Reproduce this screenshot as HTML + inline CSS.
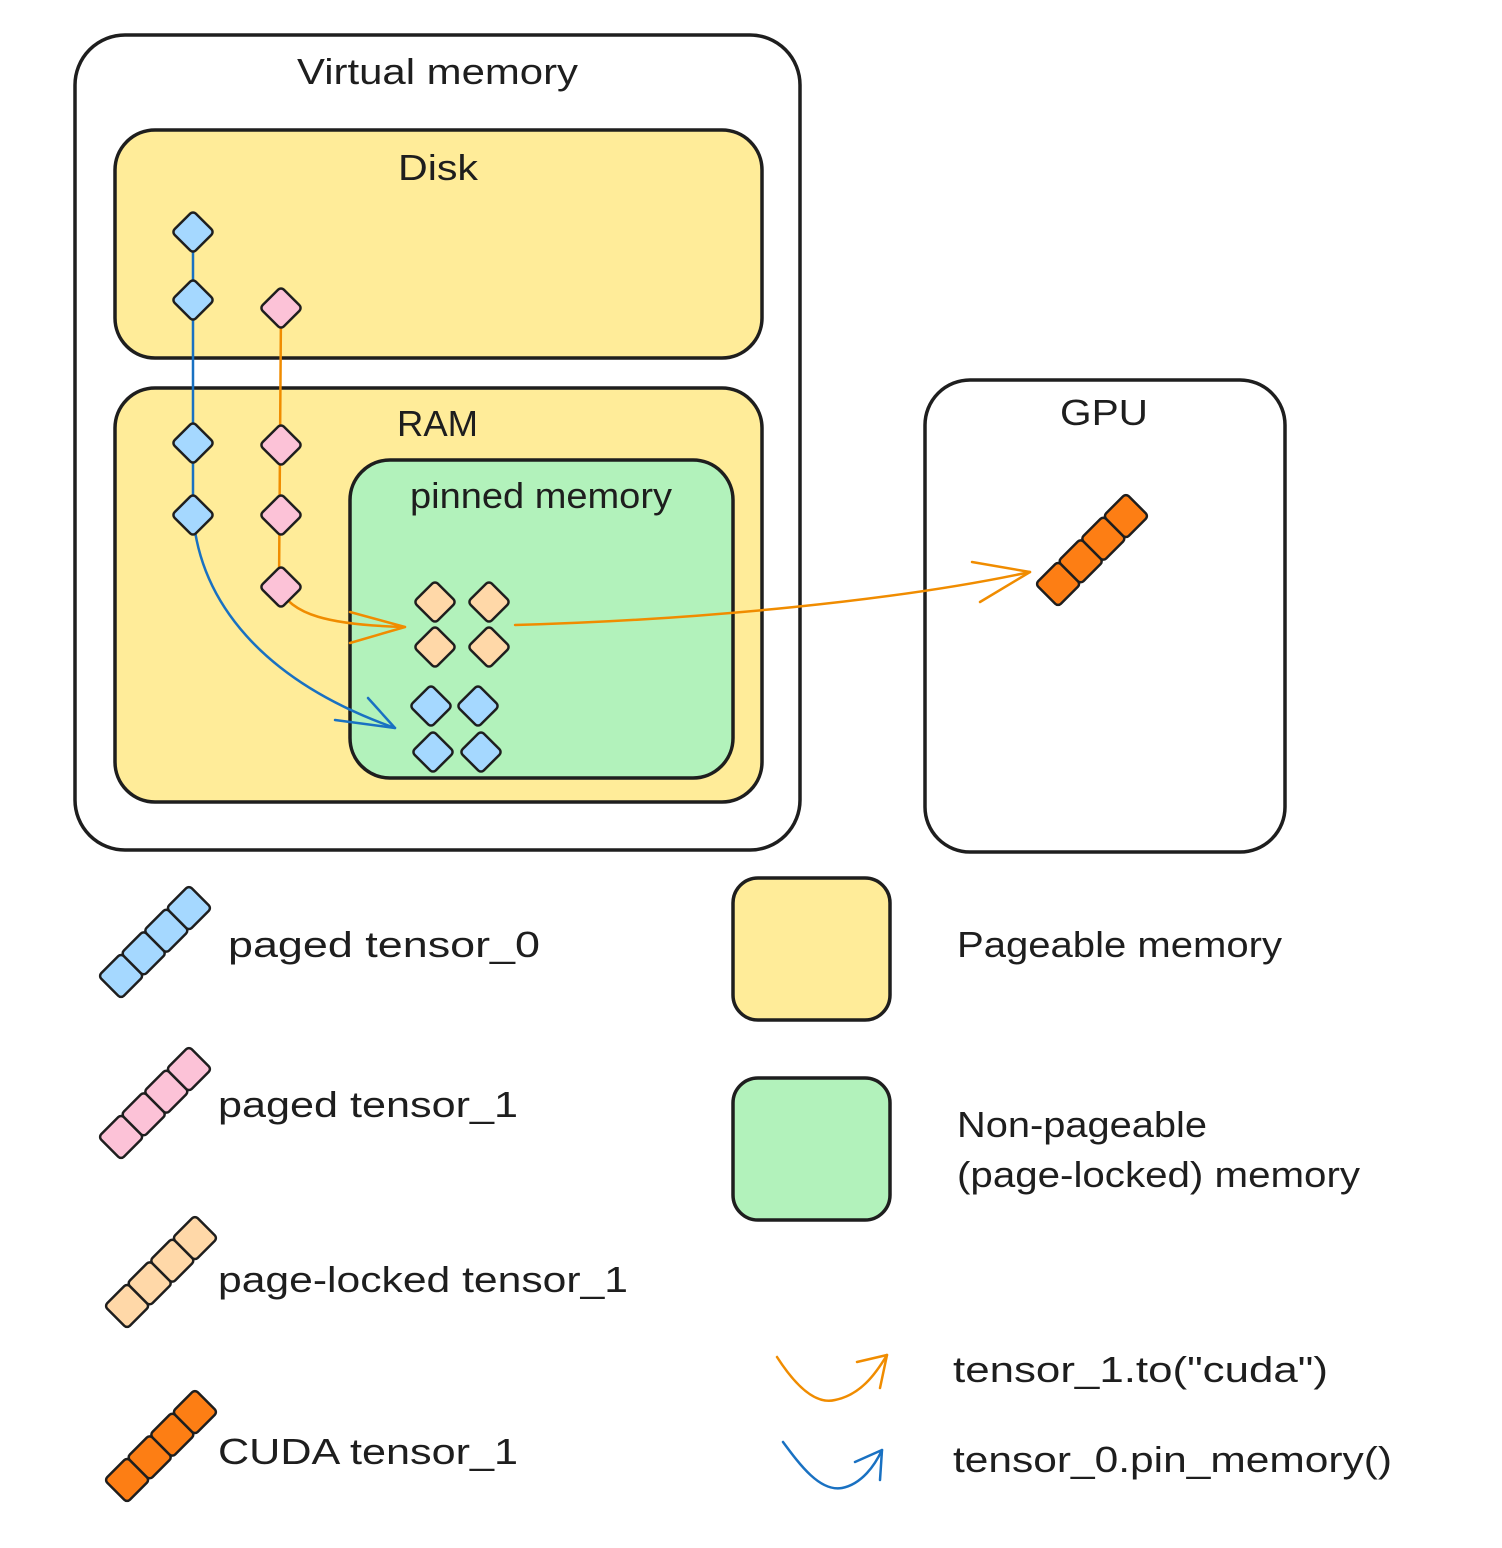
<!DOCTYPE html>
<html><head><meta charset="utf-8"><style>
html,body{margin:0;padding:0;background:#fff}
svg{display:block}
text{font-family:"Liberation Sans","DejaVu Sans",sans-serif;fill:#1e1e1e}
</style></head><body>
<svg width="1502" height="1548" viewBox="0 0 1502 1548" xmlns="http://www.w3.org/2000/svg">
<defs>
<g id="d"><rect x="-15" y="-15" width="30" height="30" rx="4" transform="rotate(45)" stroke="#1e1e1e" stroke-width="2.5"/></g>
<g id="sq"><rect x="-16" y="-16" width="32" height="32" rx="4" stroke="#1e1e1e" stroke-width="2.5"/></g>
</defs>
<g fill="none" stroke="#1e1e1e" stroke-width="3.5">
<rect x="75" y="35" width="725" height="815" rx="50" fill="#fff"/>
<rect x="115" y="130" width="647" height="228" rx="40" fill="#ffec99"/>
<rect x="115" y="388" width="647" height="414" rx="40" fill="#ffec99"/>
<rect x="350" y="460" width="383" height="318" rx="40" fill="#b2f2bb"/>
<rect x="925" y="380" width="360" height="472" rx="45" fill="#fff"/>
<rect x="733" y="878" width="157" height="142" rx="25" fill="#ffec99"/>
<rect x="733" y="1078" width="157" height="142" rx="25" fill="#b2f2bb"/>
</g>
<g font-size="36" lengthAdjust="spacingAndGlyphs">
<text x="297" y="84" textLength="281" lengthAdjust="spacingAndGlyphs">Virtual memory</text>
<text x="398" y="180" textLength="80" lengthAdjust="spacingAndGlyphs">Disk</text>
<text x="397" y="436" textLength="81" lengthAdjust="spacingAndGlyphs">RAM</text>
<text x="410" y="508" textLength="262" lengthAdjust="spacingAndGlyphs">pinned memory</text>
<text x="1060" y="425" textLength="88" lengthAdjust="spacingAndGlyphs">GPU</text>
<text x="228" y="957" textLength="312" lengthAdjust="spacingAndGlyphs">paged tensor_0</text>
<text x="218" y="1117" textLength="300" lengthAdjust="spacingAndGlyphs">paged tensor_1</text>
<text x="218" y="1292" textLength="410" lengthAdjust="spacingAndGlyphs">page-locked tensor_1</text>
<text x="218" y="1464" textLength="300" lengthAdjust="spacingAndGlyphs">CUDA tensor_1</text>
<text x="957" y="957" textLength="325" lengthAdjust="spacingAndGlyphs">Pageable memory</text>
<text x="957" y="1137" textLength="250" lengthAdjust="spacingAndGlyphs">Non-pageable</text>
<text x="957" y="1187" textLength="403" lengthAdjust="spacingAndGlyphs">(page-locked) memory</text>
<text x="953" y="1382" textLength="375" lengthAdjust="spacingAndGlyphs">tensor_1.to("cuda")</text>
<text x="953" y="1472" textLength="439" lengthAdjust="spacingAndGlyphs">tensor_0.pin_memory()</text>
</g>
<g fill="none" stroke-width="2.5" stroke-linecap="round" stroke-linejoin="round">
<path d="M193 232 L193 515 C200 600 260 680 395 728" stroke="#1971c2"/>
<path d="M335 720 L395 728 L368 698" stroke="#1971c2"/>
<path d="M281 308 L279 587 C290 615 330 625 405 627" stroke="#f08c00"/>
<path d="M350 612 L405 627 L350 643" stroke="#f08c00"/>
<path d="M515 625 C700 620 900 600 1030 572" stroke="#f08c00"/>
<path d="M972 562 L1030 572 L980 602" stroke="#f08c00"/>
<path d="M777 1357 C795 1385 815 1405 835 1400 C860 1395 875 1375 887 1355" stroke="#f08c00"/>
<path d="M857 1362 L887 1355 L880 1388" stroke="#f08c00"/>
<path d="M783 1442 C800 1465 820 1492 842 1488 C862 1484 875 1465 882 1450" stroke="#1971c2"/>
<path d="M855 1462 L882 1450 L880 1480" stroke="#1971c2"/>
</g>
<g fill="#a5d8ff">
<use href="#d" x="193" y="232"/><use href="#d" x="193" y="300"/><use href="#d" x="193" y="443"/><use href="#d" x="193" y="515"/>
<use href="#d" x="431" y="706"/><use href="#d" x="478" y="706"/><use href="#d" x="433" y="752"/><use href="#d" x="481" y="752"/>
</g>
<g fill="#fcc2d7">
<use href="#d" x="281" y="308"/><use href="#d" x="281" y="445"/><use href="#d" x="281" y="515"/><use href="#d" x="281" y="587"/>
</g>
<g fill="#ffd8a8">
<use href="#d" x="435" y="602"/><use href="#d" x="489" y="602"/><use href="#d" x="435" y="647"/><use href="#d" x="489" y="647"/>
</g>
<g fill="#fd7e14" transform="translate(1092,550) rotate(-45)"><use href="#sq" x="-48"/><use href="#sq" x="-16"/><use href="#sq" x="16"/><use href="#sq" x="48"/></g>
<g fill="#a5d8ff" transform="translate(155,942) rotate(-45)"><use href="#sq" x="-48"/><use href="#sq" x="-16"/><use href="#sq" x="16"/><use href="#sq" x="48"/></g>
<g fill="#fcc2d7" transform="translate(155,1103) rotate(-45)"><use href="#sq" x="-48"/><use href="#sq" x="-16"/><use href="#sq" x="16"/><use href="#sq" x="48"/></g>
<g fill="#ffd8a8" transform="translate(161,1272) rotate(-45)"><use href="#sq" x="-48"/><use href="#sq" x="-16"/><use href="#sq" x="16"/><use href="#sq" x="48"/></g>
<g fill="#fd7e14" transform="translate(161,1446) rotate(-45)"><use href="#sq" x="-48"/><use href="#sq" x="-16"/><use href="#sq" x="16"/><use href="#sq" x="48"/></g>
</svg>
</body></html>
